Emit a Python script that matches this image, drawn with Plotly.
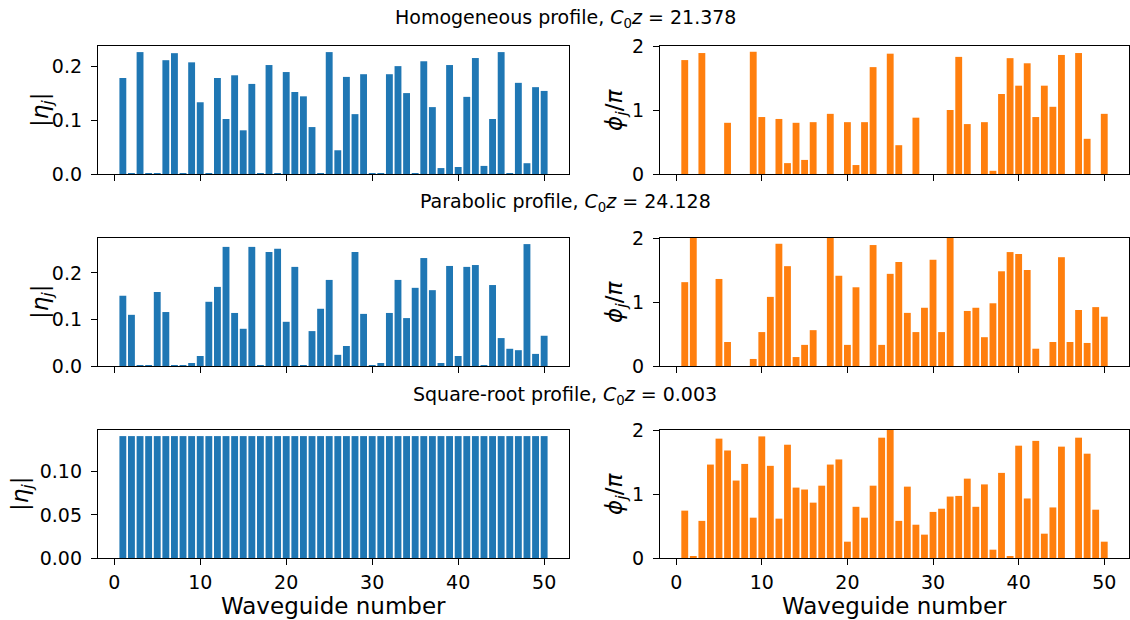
import plotly.graph_objects as go

waveguide = list(range(1, 51))

hom_mag = [0.178, 0.001, 0.226, 0.001, 0.001, 0.211, 0.224, 0.001, 0.207, 0.133,
           0.001, 0.178, 0.102, 0.183, 0.081, 0.167, 0.001, 0.202, 0.001, 0.189,
           0.152, 0.144, 0.087, 0.001, 0.226, 0.044, 0.180, 0.111, 0.185, 0.001,
           0.001, 0.185, 0.200, 0.150, 0.001, 0.209, 0.124, 0.011, 0.202, 0.013,
           0.143, 0.215, 0.015, 0.102, 0.226, 0.001, 0.169, 0.020, 0.161, 0.154]
hom_phase = [1.78, 0.0, 1.89, 0.0, 0.0, 0.80, 0.0, 0.0, 1.91, 0.89,
             0.0, 0.86, 0.17, 0.80, 0.22, 0.81, 0.0, 0.94, 0.0, 0.81,
             0.14, 0.81, 1.67, 0.0, 1.88, 0.45, 0.0, 0.88, 0.0, 0.0,
             0.0, 1.00, 1.83, 0.78, 0.0, 0.81, 0.05, 1.25, 1.81, 1.38,
             1.73, 0.89, 1.38, 1.05, 1.86, 0.0, 1.89, 0.55, 0.0, 0.94]

par_mag = [0.151, 0.110, 0.001, 0.001, 0.159, 0.116, 0.001, 0.001, 0.0065, 0.0215,
           0.138, 0.170, 0.256, 0.114, 0.080, 0.256, 0.001, 0.245, 0.252, 0.095,
           0.213, 0.001, 0.075, 0.123, 0.185, 0.024, 0.043, 0.245, 0.112, 0.002,
           0.0065, 0.114, 0.185, 0.103, 0.168, 0.232, 0.163, 0.0065, 0.215, 0.0215,
           0.213, 0.217, 0.001, 0.174, 0.060, 0.037, 0.034, 0.262, 0.026, 0.065]
par_phase = [1.31, 2.00, 0.0, 0.0, 1.36, 0.375, 0.0, 0.0, 0.11, 0.53,
             1.08, 1.91, 1.56, 0.14, 0.33, 0.56, 0.0, 2.00, 1.41, 0.33,
             1.23, 0.0, 1.89, 0.33, 1.44, 1.625, 0.83, 0.53, 0.91, 1.66,
             0.53, 2.00, 0.0, 0.86, 0.91, 0.45, 0.98, 1.48, 1.78, 1.75,
             1.50, 0.27, 0.0, 0.375, 1.70, 0.375, 0.875, 0.36, 0.92, 0.77]

sqrt_mag = [0.1414, 0.1414, 0.1414, 0.1414, 0.1414, 0.1414, 0.1414, 0.1414, 0.1414, 0.1414,
            0.1414, 0.1414, 0.1414, 0.1414, 0.1414, 0.1414, 0.1414, 0.1414, 0.1414, 0.1414,
            0.1414, 0.1414, 0.1414, 0.1414, 0.1414, 0.1414, 0.1414, 0.1414, 0.1414, 0.1414,
            0.1414, 0.1414, 0.1414, 0.1414, 0.1414, 0.1414, 0.1414, 0.1414, 0.1414, 0.1414,
            0.1414, 0.1414, 0.1414, 0.1414, 0.1414, 0.1414, 0.1414, 0.1414, 0.1414, 0.1414]
sqrt_phase = [0.74, 0.02, 0.58, 1.46, 1.865, 1.68, 1.21, 1.47, 0.63, 1.90,
              1.44, 0.615, 1.77, 1.10, 1.07, 0.865, 1.13, 1.46, 1.54, 0.255,
              0.80, 0.63, 1.13, 1.88, 2.00, 0.58, 1.115, 0.52, 0.365, 0.72,
              0.77, 0.96, 0.97, 1.24, 0.80, 1.15, 0.13, 1.33, 0.02, 1.755,
              0.93, 1.83, 0.38, 0.79, 1.74, 0.0, 1.88, 1.63, 0.755, 0.255]

row_titles = ["Homogeneous profile, <i>C</i><sub>0</sub><i>z</i> = 21.378",
              "Parabolic profile, <i>C</i><sub>0</sub><i>z</i> = 24.128",
              "Square-root profile, <i>C</i><sub>0</sub><i>z</i> = 0.003"]
mag_ticks = [[0, 0.1, 0.2], [0, 0.1, 0.2], [0, 0.05, 0.10]]
mag_ticktext = [["0.0", "0.1", "0.2"], ["0.0", "0.1", "0.2"], ["0.00", "0.05", "0.10"]]
phase_ticks = [0, 1, 2]
phase_ticktext = ["0", "1", "2"]
x_ticks = [0, 10, 20, 30, 40, 50]

W, H = 1130, 620
BLUE = "#1f77b4"
ORANGE = "#ff7f0e"
FONT = "DejaVu Sans"
TICK_SIZE = 19
LABEL_SIZE = 23
TITLE_SIZE = 19

col_px = [(98, 569), (660, 1129)]
row_px = [(46, 174), (238, 366), (430, 558)]
title_y = [18, 203, 395]
mag_label_x = [42, 42, 22]
phase_label_x = 616

fig = go.Figure()
panels = [(hom_mag, hom_phase), (par_mag, par_phase), (sqrt_mag, sqrt_phase)]
layout = {}
annotations = []

for r, (mag, ph) in enumerate(panels):
    for c, (vals, color) in enumerate([(mag, BLUE), (ph, ORANGE)]):
        idx = r * 2 + c + 1
        sfx = "" if idx == 1 else str(idx)
        fig.add_trace(go.Bar(x=waveguide, y=vals, width=0.8, marker_color=color,
                             marker_line_width=0, xaxis="x" + sfx, yaxis="y" + sfx,
                             showlegend=False, hoverinfo="skip"))
        x0, x1 = col_px[c]
        y0, y1 = row_px[r]
        layout["xaxis" + sfx] = dict(
            domain=[x0 / W, x1 / W], anchor="y" + sfx, range=[-1.89, 52.89],
            tickvals=x_ticks, showticklabels=(r == 2), ticks="outside", ticklen=6,
            tickwidth=1.3, tickcolor="black", showline=True, mirror=True,
            linecolor="black", linewidth=1.3, showgrid=False, zeroline=False,
            automargin=False, ticklabelstandoff=1,
            tickfont=dict(family=FONT, size=TICK_SIZE, color="black"))
        if c == 0:
            ymax = max(vals) * 1.05
            ytv, ytt = mag_ticks[r], mag_ticktext[r]
        else:
            ymax = 2.0
            ytv, ytt = phase_ticks, phase_ticktext
        layout["yaxis" + sfx] = dict(
            domain=[1 - y1 / H, 1 - y0 / H], anchor="x" + sfx, range=[0, ymax],
            tickvals=ytv, ticktext=ytt, ticks="outside", ticklen=6, tickwidth=1.3,
            tickcolor="black", showline=True, mirror=True, linecolor="black",
            linewidth=1.3, showgrid=False, zeroline=False, automargin=False,
            ticklabelstandoff=5,
            tickfont=dict(family=FONT, size=TICK_SIZE, color="black"))
    annotations.append(dict(text=row_titles[r], x=0.5, y=1 - title_y[r] / H,
                            xref="paper", yref="paper", showarrow=False,
                            xanchor="center", yanchor="middle",
                            font=dict(family=FONT, size=TITLE_SIZE, color="black")))
    ymid = 1 - (row_px[r][0] + row_px[r][1]) / 2 / H
    annotations.append(dict(text="|<i>η<sub>j</sub></i>|", x=mag_label_x[r] / W, y=ymid,
                            xref="paper", yref="paper", showarrow=False, textangle=-90,
                            xanchor="center", yanchor="middle",
                            font=dict(family=FONT, size=LABEL_SIZE, color="black")))
    annotations.append(dict(text="<i>ϕ<sub>j</sub></i>/<i>π</i>", x=phase_label_x / W, y=ymid,
                            xref="paper", yref="paper", showarrow=False, textangle=-90,
                            xanchor="center", yanchor="middle",
                            font=dict(family=FONT, size=LABEL_SIZE, color="black")))

for c in range(2):
    xc = (col_px[c][0] + col_px[c][1]) / 2 / W
    annotations.append(dict(text="Waveguide number", x=xc, y=1 - 606 / H,
                            xref="paper", yref="paper", showarrow=False,
                            xanchor="center", yanchor="middle",
                            font=dict(family=FONT, size=LABEL_SIZE, color="black")))

fig.update_layout(template="none", width=W, height=H,
                  margin=dict(l=0, r=0, t=0, b=0, autoexpand=False),
                  plot_bgcolor="white", paper_bgcolor="white",
                  font=dict(family=FONT, color="black"),
                  annotations=annotations, **layout)
fig.write_html("out.html", config={"displayModeBar": False},
               post_script="document.body.style.margin='0';document.body.style.overflow='hidden';")
